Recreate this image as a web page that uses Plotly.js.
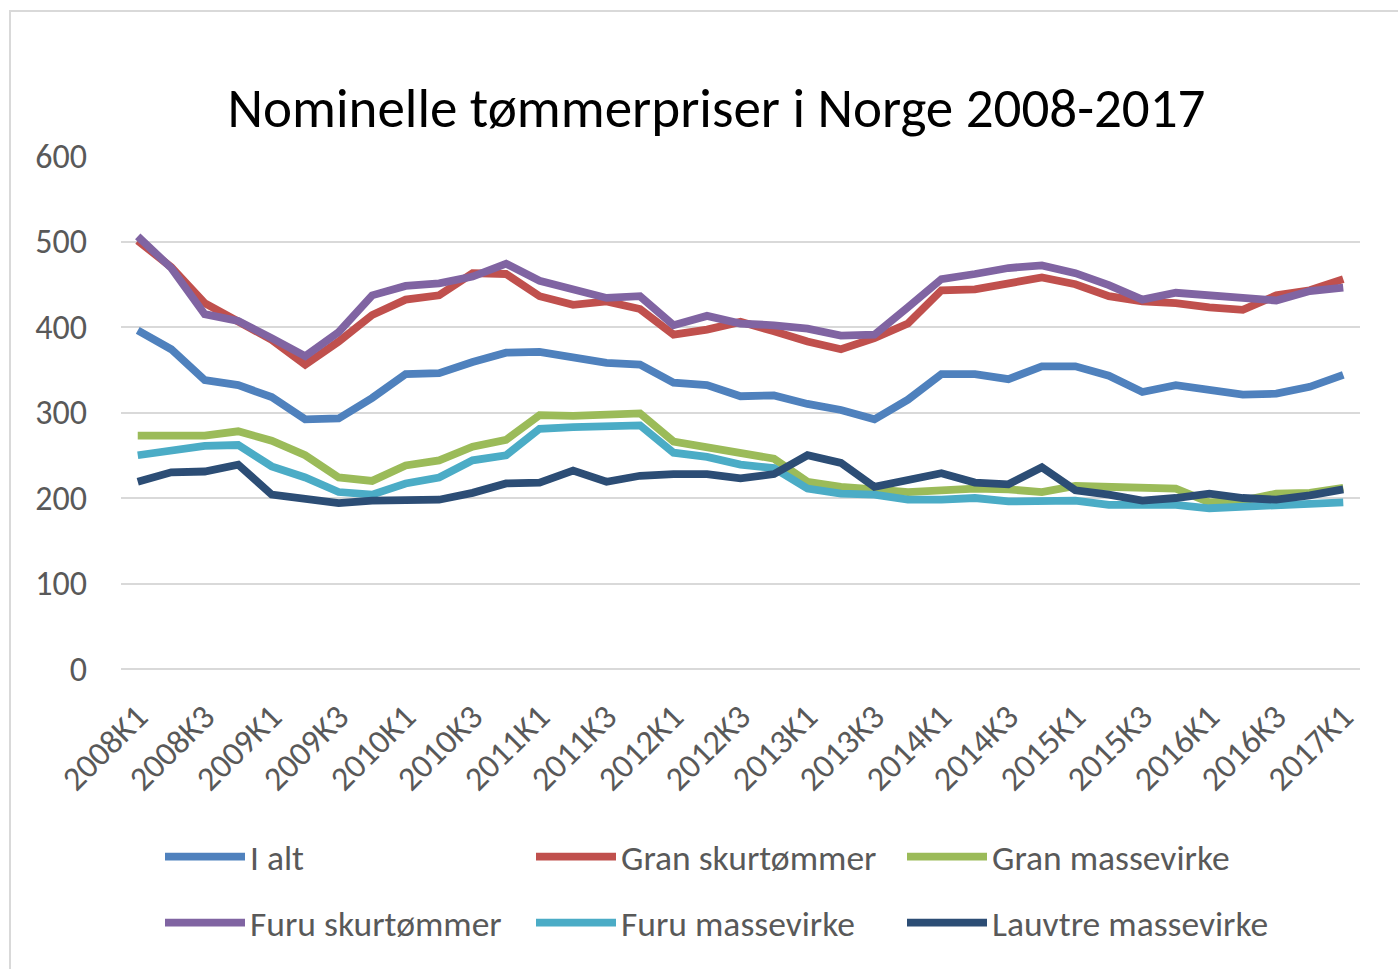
<!DOCTYPE html>
<html>
<head>
<meta charset="utf-8">
<script src="https://cdn.plot.ly/plotly-3.0.1.min.js"></script>
<style>
  html, body { margin: 0; padding: 0; background: #fff; overflow: hidden; }
  #chart { width: 1398px; height: 969px; }
  #frame { position: absolute; left: 9px; top: 10px; width: 1420px; height: 1000px;
           border: 2px solid #d9d9d9; pointer-events: none; box-sizing: border-box; }
</style>
</head>
<body>
<div id="chart"></div>
<div id="frame"></div>
<script>
const quarters = [
  "2008K1","2008K2","2008K3","2008K4","2009K1","2009K2","2009K3","2009K4",
  "2010K1","2010K2","2010K3","2010K4","2011K1","2011K2","2011K3","2011K4",
  "2012K1","2012K2","2012K3","2012K4","2013K1","2013K2","2013K3","2013K4",
  "2014K1","2014K2","2014K3","2014K4","2015K1","2015K2","2015K3","2015K4",
  "2016K1","2016K2","2016K3","2016K4","2017K1"
];
const tickLabels = [
  "2008K1","2008K3","2009K1","2009K3","2010K1","2010K3","2011K1","2011K3",
  "2012K1","2012K3","2013K1","2013K3","2014K1","2014K3","2015K1","2015K3",
  "2016K1","2016K3","2017K1"
];
const iAlt = [396,374,338,332,318,292,293,317,345,346,359,370,371,365,358,356,
  335,332,319,320,310,303,292,315,345,345,339,354,354,343,324,332,326,321,322,330,344];
const granSkurtommer = [501,470,428,406,385,356,383,414,432,437,463,462,436,426,430,421,
  391,397,406,395,383,374,387,404,443,444,451,458,450,436,430,428,423,420,437,443,456];
const granMassevirke = [273,274,273,278,267,250,224,220,238,244,260,268,297,296,298,299,
  266,260,252,246,219,213,210,207,209,211,210,207,214,213,213,211,195,197,205,206,212];
const furuSkurtommer = [506,469,415,407,387,366,394,437,448,451,459,474,454,444,434,436,
  402,413,404,402,398,390,391,423,456,462,469,472,463,449,432,440,437,432,431,442,446];
const furuMassevirke = [250,256,261,262,237,224,207,204,217,224,244,250,281,283,285,285,
  253,248,239,235,211,205,204,198,198,200,196,197,197,192,192,192,188,190,193,193,195];
const lauvtreMassevirke = [219,230,231,239,204,198,194,197,197,198,206,217,218,232,219,226,
  228,228,223,228,250,241,213,220,229,218,216,236,209,204,197,200,205,200,198,203,210];

const seriesNames = ["I alt","Gran skurtømmer","Gran massevirke","Furu skurtømmer","Furu massevirke","Lauvtre massevirke"];
const seriesValues = [iAlt, granSkurtommer, granMassevirke, furuSkurtommer, furuMassevirke, lauvtreMassevirke];
const seriesColors = ["#4F81BD","#C0504D","#9BBB59","#8064A2","#4BACC6","#2C4D75"];
const legendRefs = ["legend","legend","legend","legend2","legend2","legend2"];

const FONT = "Carlito, Calibri, 'Liberation Sans Narrow', 'Open Sans', sans-serif";

const traces = seriesNames.map((n, k) => ({
  type: "scatter", mode: "lines", name: n,
  x: quarters, y: seriesValues[k],
  line: { color: seriesColors[k], width: 7.8, shape: "linear" },
  legend: legendRefs[k],
  hoverinfo: "x+y+name"
}));

const legendBase = {
  orientation: "h", xref: "container", yref: "container",
  xanchor: "left", yanchor: "middle",
  entrywidth: 276, entrywidthmode: "pixels",
  itemwidth: 80,
  font: { family: FONT, size: 35.5, color: "#595959" },
  bgcolor: "rgba(0,0,0,0)", borderwidth: 0
};

const layout = {
  width: 1398, height: 969,
  paper_bgcolor: "#ffffff", plot_bgcolor: "#ffffff",
  margin: { l: 121, r: 38, t: 156, b: 300 },
  font: { family: FONT, color: "#595959" },
  title: {
    text: "Nominelle tømmerpriser i Norge 2008-2017",
    font: { family: FONT, size: 55, color: "#000000" },
    xref: "container", yref: "container",
    x: 0.5125, xanchor: "center", y: 1 - 108/969, yanchor: "middle"
  },
  xaxis: {
    type: "category", range: [-0.5, quarters.length - 0.5],
    tickmode: "array", tickvals: tickLabels, ticktext: tickLabels,
    tickangle: -45, showgrid: false, showline: false, zeroline: false,
    ticks: "", ticklabelstandoff: 20,
    tickfont: { family: FONT, size: 34, color: "#595959" },
    fixedrange: true
  },
  yaxis: {
    range: [0, 600], dtick: 100, tick0: 0,
    showgrid: true, gridcolor: "#d9d9d9", gridwidth: 2,
    zeroline: true, zerolinecolor: "#d9d9d9", zerolinewidth: 2,
    showline: false, ticks: "", ticklabelstandoff: 33,
    tickfont: { family: FONT, size: 34, color: "#595959" },
    fixedrange: true
  },
  showlegend: true,
  legend: Object.assign({}, legendBase, { x: 160/1398, y: 1 - 857/969 }),
  legend2: Object.assign({}, legendBase, { x: 160/1398, y: 1 - 923/969 })
};

Plotly.newPlot("chart", traces, layout, { displayModeBar: false, staticPlot: true });
</script>
</body>
</html>
